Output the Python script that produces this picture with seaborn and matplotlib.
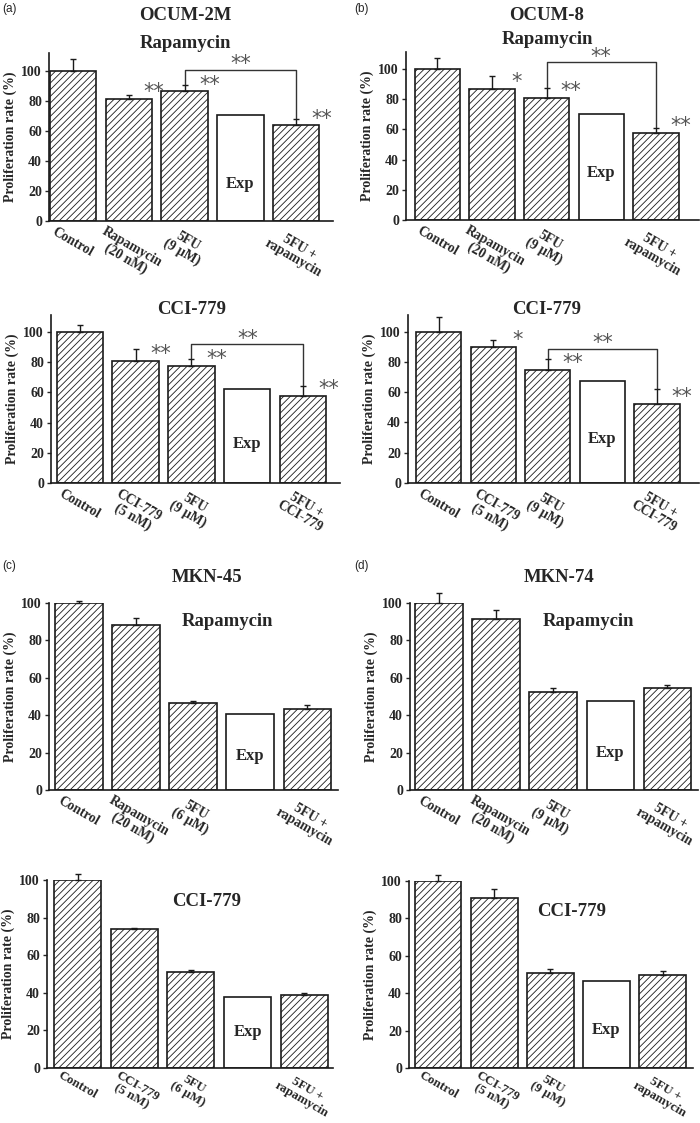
import numpy as np
import pandas as pd
import matplotlib
matplotlib.use("Agg")
import matplotlib.pyplot as plt
import seaborn as sns

# ---------------- data ----------------
groups = ["ctrl", "drug", "fu", "exp", "combo"]

labels_a_rapa = ["Control", "Rapamycin\n(20 nM)", "5FU\n(9 μM)", "", "5FU +\nrapamycin"]
labels_a_cci = ["Control", "CCI-779\n(5 nM)", "5FU\n(9 μM)", "", "5FU +\nCCI-779"]
labels_c_rapa = ["Control", "Rapamycin\n(20 nM)", "5FU\n(6 μM)", "", "5FU +\nrapamycin"]
labels_c_cci = ["Control", "CCI-779\n(5 nM)", "5FU\n(6 μM)", "", "5FU +\nrapamycin"]
labels_d_rapa = ["Control", "Rapamycin\n(20 nM)", "5FU\n(9 μM)", "", "5FU +\nrapamycin"]
labels_d_cci = ["Control", "CCI-779\n(5 nM)", "5FU\n(9 μM)", "", "5FU +\nrapamycin"]

ocum2m_rapa = [100, 81.5, 86.4, 70.4, 63.8]
ocum2m_rapa_err = [8.0, 2.5, 4.6, np.nan, 4.2]
ocum2m_cci = [100, 80.7, 77.4, 62.2, 57.5]
ocum2m_cci_err = [4.5, 7.8, 4.6, np.nan, 6.9]
ocum8_rapa = [100, 87.0, 80.8, 70.4, 57.8]
ocum8_rapa_err = [7.0, 8.4, 6.8, np.nan, 3.2]
ocum8_cci = [100, 89.7, 74.8, 67.2, 52.3]
ocum8_cci_err = [10.0, 4.8, 7.2, np.nan, 9.7]
mkn45_rapa = [100, 88.4, 46.4, 40.9, 43.2]
mkn45_rapa_err = [1.3, 3.6, 1.0, np.nan, 2.0]
mkn45_cci = [100, 73.9, 51.2, 38.0, 38.9]
mkn45_cci_err = [3.0, 0.7, 0.7, np.nan, 0.8]
mkn74_rapa = [100, 91.4, 52.3, 47.7, 54.5]
mkn74_rapa_err = [5.2, 5.0, 2.2, np.nan, 1.9]
mkn74_cci = [100, 91.0, 50.8, 46.5, 49.9]
mkn74_cci_err = [3.0, 4.7, 1.9, np.nan, 1.8]

# significance marks per bar
sig_ocum2m_rapa = ["", "**", "**", "", "**"]
sig_ocum2m_cci = ["", "**", "**", "", "**"]
sig_ocum8_rapa = ["", "*", "**", "", "**"]
sig_ocum8_cci = ["", "*", "**", "", "**"]
no_sig = ["", "", "", "", ""]

yticks = [0, 20, 40, 60, 80, 100]

# ---------------- style ----------------
sns.set_theme(style="ticks")
plt.rcParams["font.family"] = ["Liberation Serif", "DejaVu Serif"]
plt.rcParams["font.weight"] = "bold"
plt.rcParams["hatch.linewidth"] = 0.6
plt.rcParams["axes.linewidth"] = 1.2

W, H = 700, 1123
fig = plt.figure(figsize=(W / 100, H / 100), dpi=100)
fig.patch.set_facecolor("white")


def px_axes(left, right, top, bottom):
    return fig.add_axes([left / W, 1 - bottom / H, (right - left) / W, (bottom - top) / H])


def ftext(x, y, s, **kw):
    fig.text(x / W, 1 - y / H, s, **kw)


STAR_KW = dict(fontsize=15, color="#555555", family="DejaVu Sans",
               fontweight="normal", clip_on=False)


def draw_panel(ax, means, errs, labels, sigs, xlim, ymax, exp_y, bracket=None,
               xfs=9.8, xpad=3):
    df = pd.DataFrame({"group": groups, "value": means})
    sns.barplot(data=df, x="group", y="value", order=groups, ax=ax, color="white",
                saturation=1, edgecolor="#1a1a1a", linewidth=1.2, width=0.83,
                errorbar=None)
    xs = []
    for i, p in enumerate(ax.patches):
        p.set_facecolor("white")
        p.set_edgecolor("#1a1a1a")
        if groups[i] != "exp":
            p.set_hatch("/////")
        xs.append(p.get_x() + p.get_width() / 2)
    xs = np.array(xs)
    m = np.array(means, dtype=float)
    e = np.array(errs, dtype=float)
    ok = ~np.isnan(e)
    ax.errorbar(xs[ok], m[ok], yerr=[np.zeros(ok.sum()), e[ok]], fmt="none",
                ecolor="#1a1a1a", elinewidth=1.0, capsize=2.5, capthick=1.0,
                clip_on=False, zorder=3)
    for i, s in enumerate(sigs):
        if s:
            ax.text(xs[i] + 0.45, m[i] + 0.5, s, ha="center", va="baseline", **STAR_KW)
    iexp = groups.index("exp")
    ax.text(xs[iexp], exp_y, "Exp", ha="center", va="center", fontsize=12,
            fontweight="bold")
    if bracket is not None:
        i0, i1, yb = bracket
        top0 = m[i0] + (e[i0] if ok[i0] else 0)
        top1 = m[i1] + (e[i1] if ok[i1] else 0)
        ax.plot([xs[i0], xs[i0], xs[i1], xs[i1]], [top0, yb, yb, top1],
                color="#333333", lw=1.0, clip_on=False)
        ax.text((xs[i0] + xs[i1]) / 2, yb - 0.2, "**", ha="center", va="baseline",
                **STAR_KW)
    ax.set_xlim(*xlim)
    ax.set_ylim(0, ymax)
    ax.set_yticks(yticks)
    ax.set_yticklabels([str(t) for t in yticks], fontsize=10, fontweight="bold")
    ax.set_xticks(xs)
    ax.set_xticklabels(labels, rotation=-30, ha="center", va="top", fontsize=xfs,
                       fontweight="bold", rotation_mode="default", linespacing=1.0)
    ax.tick_params(axis="x", length=0, pad=xpad)
    ax.tick_params(axis="y", length=3, width=1, direction="out", pad=2)
    ax.set_xlabel("")
    ax.set_ylabel("Proliferation rate (%)", fontsize=10, fontweight="bold", labelpad=3)
    for side in ["top", "right"]:
        ax.spines[side].set_visible(False)
    for side in ["left", "bottom"]:
        ax.spines[side].set_color("#1a1a1a")
        ax.spines[side].set_linewidth(1.2)
    ax.set_facecolor("white")


# (a) OCUM-2M
ax = px_axes(49, 333, 53, 221)
draw_panel(ax, ocum2m_rapa, ocum2m_rapa_err, labels_a_rapa, sig_ocum2m_rapa,
           (-0.43, 4.66), 112, 25, bracket=(2, 4, 100.7))
ax = px_axes(51, 340, 315, 483)
draw_panel(ax, ocum2m_cci, ocum2m_cci_err, labels_a_cci, sig_ocum2m_cci,
           (-0.515, 4.66), 111.3, 26, bracket=(2, 4, 91.8))
# (b) OCUM-8
ax = px_axes(406, 699, 52, 220)
draw_panel(ax, ocum8_rapa, ocum8_rapa_err, labels_a_rapa, sig_ocum8_rapa,
           (-0.575, 4.79), 111.3, 31, bracket=(2, 4, 104.4))
ax = px_axes(408, 699, 315, 483)
draw_panel(ax, ocum8_cci, ocum8_cci_err, labels_a_cci, sig_ocum8_cci,
           (-0.56, 4.77), 111, 29.4, bracket=(2, 4, 88.5))
# (c) MKN-45
ax = px_axes(49, 338, 603, 790)
draw_panel(ax, mkn45_rapa, mkn45_rapa_err, labels_c_rapa, no_sig,
           (-0.526, 4.54), 100, 18)
ax = px_axes(47, 333, 880, 1068)
draw_panel(ax, mkn45_cci, mkn45_cci_err, labels_c_cci, no_sig,
           (-0.544, 4.51), 100, 19.2, xfs=9.4, xpad=1)
# (d) MKN-74
ax = px_axes(410, 698, 603, 790)
draw_panel(ax, mkn74_rapa, mkn74_rapa_err, labels_d_rapa, no_sig,
           (-0.51, 4.54), 100, 20)
ax = px_axes(409, 693, 881, 1068)
draw_panel(ax, mkn74_cci, mkn74_cci_err, labels_d_cci, no_sig,
           (-0.517, 4.54), 100, 20.5, xfs=9.4, xpad=1)

# titles
tkw = dict(ha="center", va="center", fontsize=13.5, fontweight="bold")
ftext(185, 16, "OCUM-2M", **tkw)
ftext(185, 43, "Rapamycin", **tkw)
ftext(192, 310, "CCI-779", **tkw)
ftext(547, 16, "OCUM-8", **tkw)
ftext(547, 39, "Rapamycin", **tkw)
ftext(547, 310, "CCI-779", **tkw)
ftext(207, 578, "MKN-45", **tkw)
ftext(227, 622, "Rapamycin", **tkw)
ftext(207, 902, "CCI-779", **tkw)
ftext(559, 578, "MKN-74", **tkw)
ftext(588, 622, "Rapamycin", **tkw)
ftext(572, 912, "CCI-779", **tkw)

pkw = dict(ha="left", va="center", fontsize=8.5, fontweight="normal",
           family="Liberation Sans")
ftext(2, 9, "(a)", **pkw)
ftext(354, 9, "(b)", **pkw)
ftext(2, 566, "(c)", **pkw)
ftext(354, 566, "(d)", **pkw)

fig.savefig("out.png", dpi=100, facecolor="white")
